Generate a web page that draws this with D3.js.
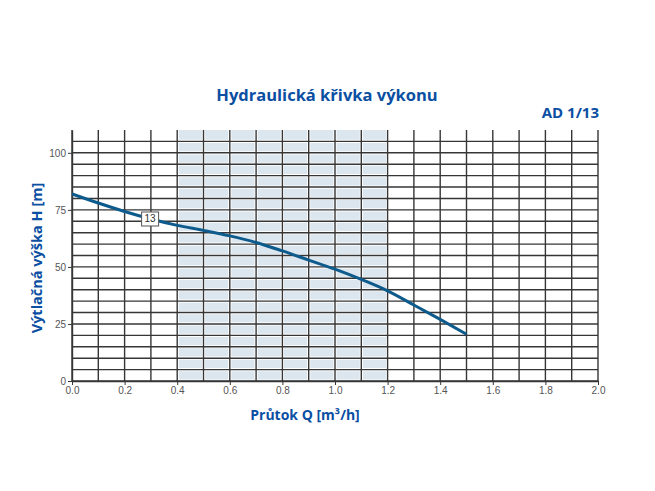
<!DOCTYPE html>
<html><head><meta charset="utf-8">
<script src="https://cdn.jsdelivr.net/npm/d3@7"></script>
<style>body{margin:0;background:#fff}svg{display:block}</style>
</head><body>
<script>
const flowQ = [0, 0.1, 0.2, 0.3, 0.4, 0.5, 0.6, 0.7, 0.8, 0.9, 1.0, 1.1, 1.2, 1.3, 1.4, 1.5];
const headH = [82, 78, 74.3, 71, 68.2, 66, 63.6, 60.7, 57, 53, 49, 44.5, 39.5, 33.3, 27, 20.5];
const xTicks = [0, 0.2, 0.4, 0.6, 0.8, 1.0, 1.2, 1.4, 1.6, 1.8, 2.0];
const yTicks = [0, 25, 50, 75, 100];
const xGrid = d3.range(0, 21).map(i => i / 10);
const yGrid = d3.range(0, 22).map(i => i * 5);
const shadedRange = [0.4, 1.2];
const curveLabel = {text: "13", q: 0.297, h: 71};

const W = 655, H = 491;
const svg = d3.select("body").append("svg").attr("width", W).attr("height", H);
const x = d3.scaleLinear().domain([0, 2]).range([72, 598]);
const y = d3.scaleLinear().domain([0, 110]).range([381, 130]);

svg.append("rect").attr("x", x(shadedRange[0])).attr("y", y(110))
  .attr("width", x(shadedRange[1]) - x(shadedRange[0])).attr("height", y(0) - y(110))
  .attr("fill", "#dbe6ee");

const grid = svg.append("g");
grid.selectAll(".hv").data(xGrid).join("line").attr("class","hv")
  .attr("x1", d => x(d)).attr("x2", d => x(d)).attr("y1", y(0)).attr("y2", y(110))
  .attr("stroke", "#fff").attr("stroke-width", 3.2);
grid.selectAll(".hh").data(yGrid).join("line").attr("class","hh")
  .attr("x1", x(0)).attr("x2", x(2)).attr("y1", d => y(d)).attr("y2", d => y(d))
  .attr("stroke", "#fff").attr("stroke-width", 3.2);
grid.selectAll(".gv").data(xGrid).join("line").attr("class","gv")
  .attr("x1", d => x(d)).attr("x2", d => x(d)).attr("y1", y(0)).attr("y2", y(110))
  .attr("stroke", "#363636").attr("stroke-width", 1.4);
grid.selectAll(".gh").data(yGrid).join("line").attr("class","gh")
  .attr("x1", x(0)).attr("x2", x(2)).attr("y1", d => y(d)).attr("y2", d => y(d))
  .attr("stroke", "#363636").attr("stroke-width", 1.4);

const xAxis = svg.append("g").attr("transform", `translate(0,${y(0)})`)
  .call(d3.axisBottom(x).tickValues(xTicks).tickFormat(d3.format(".1f")).tickSize(4).tickSizeOuter(0).tickPadding(2));
const yAxis = svg.append("g").attr("transform", `translate(${x(0)},0)`)
  .call(d3.axisLeft(y).tickValues(yTicks).tickSize(4).tickSizeOuter(0).tickPadding(2));
[xAxis, yAxis].forEach(a => {
  a.select(".domain").attr("stroke", "#363636").attr("stroke-width", 1.4);
  a.selectAll(".tick line").attr("stroke", "#363636");
  a.selectAll("text").attr("fill", "#555").attr("font-family", "Liberation Sans, sans-serif").attr("font-size", 10);
});

const line = d3.line().x((d, i) => x(flowQ[i])).y(d => y(d)).curve(d3.curveMonotoneX);
svg.append("path").datum(headH).attr("d", line).attr("fill", "none")
  .attr("stroke", "#0d5a8c").attr("stroke-width", 3);

const lg = svg.append("g").attr("transform", `translate(${x(curveLabel.q)},${y(curveLabel.h)})`);
lg.append("rect").attr("x", -8.5).attr("y", -7).attr("width", 17).attr("height", 14)
  .attr("fill", "#fff").attr("stroke", "#555").attr("stroke-width", 1);
lg.append("text").attr("text-anchor", "middle").attr("dy", "0.35em")
  .attr("font-family", "Liberation Sans, sans-serif").attr("font-size", 10).attr("fill", "#333").text(curveLabel.text);

const blue = "#0b4fa3";
svg.append("text").attr("x", 327).attr("y", 101).attr("text-anchor", "middle")
  .attr("font-family", "Open Sans, sans-serif").attr("font-weight", "bold").attr("font-size", 16.5)
  .attr("fill", blue).text("Hydraulická křivka výkonu");
svg.append("text").attr("x", 599).attr("y", 118).attr("text-anchor", "end")
  .attr("font-family", "Open Sans, sans-serif").attr("font-weight", "bold").attr("font-size", 15)
  .attr("fill", blue).text("AD 1/13");
svg.append("text").attr("x", 305).attr("y", 420).attr("text-anchor", "middle")
  .attr("font-family", "Open Sans, sans-serif").attr("font-weight", "bold").attr("font-size", 14)
  .attr("fill", blue).text("Průtok Q [m³/h]");
svg.append("text").attr("transform", "translate(42,258) rotate(-90)").attr("text-anchor", "middle")
  .attr("font-family", "Open Sans, sans-serif").attr("font-weight", "bold").attr("font-size", 14.5)
  .attr("fill", blue).text("Výtlačná výška H [m]");
</script>
</body></html>
